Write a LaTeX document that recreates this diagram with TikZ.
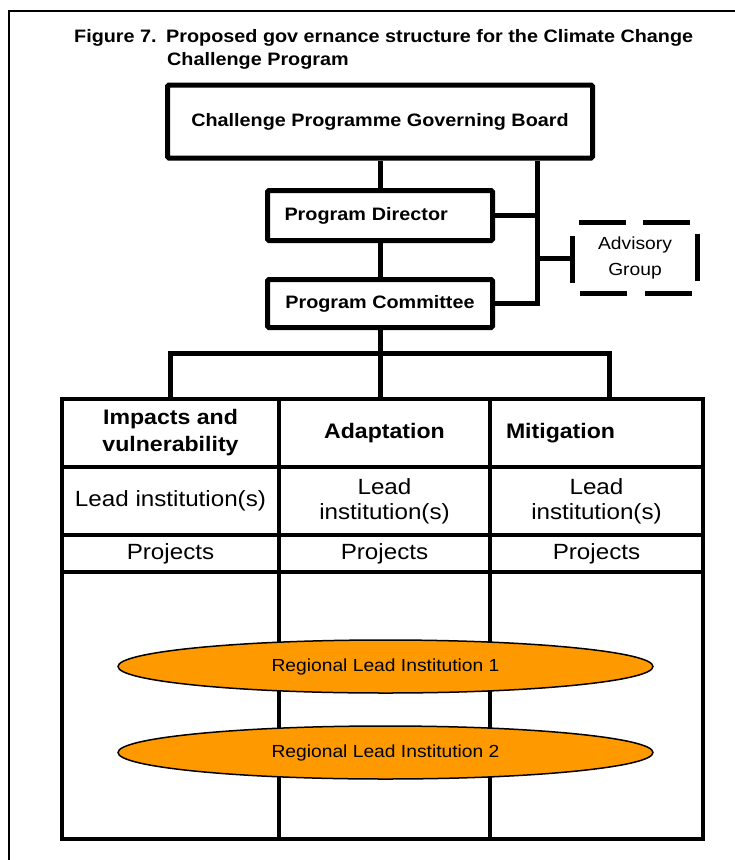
\documentclass[tikz,border=0pt]{standalone}
\usepackage{fontspec}
\setmainfont{Liberation Sans}[FakeStretch=1.1]
\usetikzlibrary{shapes.geometric}
\definecolor{rliorange}{RGB}{255,153,0}

\begin{document}
\begin{tikzpicture}[x=1pt,y=1pt]
    \tikzstyle{every node}+=[inner sep=0pt]
    \tikzstyle{box}=[draw, line width=5, rounded corners=1.5, minimum width=225, font=\fontsize{18}{22}\selectfont\bfseries]
    \tikzstyle{conn}=[line width=5]
    \tikzstyle{cell}=[draw, line width=4.5, align=center, font=\fontsize{22}{25}\selectfont]
    \tikzstyle{head}=[cell, font=\fontsize{21}{27}\selectfont\bfseries]
    \tikzstyle{regional}=[ellipse, draw, line width=1.5, fill=rliorange, minimum width=535, minimum height=53, font=\fontsize{17.5}{21}\selectfont]
    \useasboundingbox (0,0) rectangle (735,-860);
    % frame (only left and top edge show)
    \draw [line width=1.5] (9,-860) -- (9,-11) -- (735,-11);
    \node [anchor=base west, font=\fontsize{18}{22}\selectfont\bfseries] (fig) at (74,-42) {Figure 7.};
    \node [anchor=base west, font=\fontsize{18}{22}\selectfont\bfseries] (title1) at (166,-42) {Proposed gov ernance structure for the Climate Change};
    \node [anchor=base west, font=\fontsize{18}{22}\selectfont\bfseries] (title2) at (167,-65) {Challenge Program};
    % governance boxes
    \node [box, minimum width=425, minimum height=73] (board) at (380,-121.5) {Challenge Programme Governing Board};
    \node [box, minimum height=50, text width=191, inner xsep=17, align=left] (dir) at (380,-215.5) {Program Director};
    \node [box, minimum height=48] (com) at (380,-303.5) {Program Committee};
    \node [align=center, minimum width=124, minimum height=70, font=\fontsize{17.5}{26}\selectfont] (adv) at (635,-258) {Advisory\\Group};
    \draw [line width=5, dash pattern=on 47pt off 17.67pt, dash phase=58.67pt] (adv.north west) -- (adv.north east) -- (adv.south east) -- (adv.south west) -- cycle;
    % table
    \node [head, minimum width=217, minimum height=68] (imp) at (170.5,-433) {Impacts and\\vulnerability};
    \node [head, minimum width=211, minimum height=68] (ada) at (384.5,-433) {Adaptation};
    \node [head, minimum height=68, text width=181, inner xsep=16, align=left] (mit) at (596.5,-433) {Mitigation};
    \node [cell, minimum width=217, minimum height=68] (lead1) at (170.5,-501) {Lead institution(s)};
    \node [cell, minimum width=211, minimum height=68] (lead2) at (384.5,-501) {Lead\\institution(s)};
    \node [cell, minimum width=213, minimum height=68] (lead3) at (596.5,-501) {Lead\\institution(s)};
    \node [cell, minimum width=217, minimum height=37] (proj1) at (170.5,-553.5) {Projects};
    \node [cell, minimum width=211, minimum height=37] (proj2) at (384.5,-553.5) {Projects};
    \node [cell, minimum width=213, minimum height=37] (proj3) at (596.5,-553.5) {Projects};
    \node [cell, minimum width=217, minimum height=267] (reg1) at (170.5,-705.5) {};
    \node [cell, minimum width=211, minimum height=267] (reg2) at (384.5,-705.5) {};
    \node [cell, minimum width=213, minimum height=267] (reg3) at (596.5,-705.5) {};
    \node [regional] (rli1) at (385.5,-666.5) {Regional Lead Institution 1};
    \node [regional] (rli2) at (385.5,-752.5) {Regional Lead Institution 2};
    % connectors
    \draw [conn] (board.south) -- (dir.north);
    \draw [conn] (dir.south) -- (com.north);
    \coordinate (spine) at ([xshift=157]board.south);
    \draw [conn] (spine) |- (com.east);
    \draw [conn] (dir.east) -- (dir.east -| spine);
    \draw [conn] (adv.west) -- (adv.west -| spine);
    \coordinate (bar) at ([yshift=-23]com.south);
    \draw [conn] (com.south) -- (com.south |- ada.north);
    \draw [conn] (imp.north) |- (bar) -| ([xshift=12.5]mit.north);
\end{tikzpicture}
\end{document}
